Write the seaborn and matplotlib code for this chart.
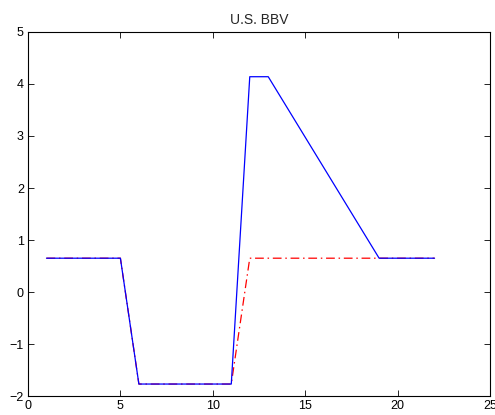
import matplotlib
matplotlib.use("Agg")
import matplotlib.pyplot as plt
import seaborn as sns
import pandas as pd

blue_x = [1, 2, 3, 4, 5, 6, 7, 8, 9, 10, 11, 12, 13, 19, 20, 21, 22]
blue_y = [0.65, 0.65, 0.65, 0.65, 0.65, -1.77, -1.77, -1.77, -1.77, -1.77, -1.77,
          4.14, 4.14, 0.65, 0.65, 0.65, 0.65]
red_x = [1, 2, 3, 4, 5, 6, 7, 8, 9, 10, 11, 12, 13, 14, 15, 16, 17, 18, 19, 20, 21, 22]
red_y = [0.65, 0.65, 0.65, 0.65, 0.65, -1.77, -1.77, -1.77, -1.77, -1.77, -1.77,
         0.65, 0.65, 0.65, 0.65, 0.65, 0.65, 0.65, 0.65, 0.65, 0.65, 0.65]
title = "U.S. BBV"
x_ticks = [0, 5, 10, 15, 20, 25]
y_ticks = [-2, -1, 0, 1, 2, 3, 4, 5]

sns.set_style("ticks")
plt.rcParams['font.family'] = ['Liberation Sans', 'DejaVu Sans']
plt.rcParams['axes.unicode_minus'] = True

fig = plt.figure(figsize=(4.95, 4.15), dpi=100)
ax = fig.add_axes([28/495, 19/415, 462/495, 364/415])

red_df = pd.DataFrame({"x": red_x, "y": red_y})
blue_df = pd.DataFrame({"x": blue_x, "y": blue_y})
sns.lineplot(data=red_df, x="x", y="y", ax=ax, color="#ff0000", linewidth=0.9,
             sort=False, estimator=None)
ax.lines[-1].set_dashes([7, 3, 1.2, 3])
sns.lineplot(data=blue_df, x="x", y="y", ax=ax, color="#0000ff", linewidth=0.9,
             sort=False, estimator=None)

ax.set_xlim(0, 25)
ax.set_ylim(-2, 5)
ax.set_xticks(x_ticks)
ax.set_yticks(y_ticks)
ax.set_xlabel("")
ax.set_ylabel("")
ax.set_title(title, fontsize=10, pad=6)
ax.tick_params(direction="in", length=4, width=0.6, labelsize=9, top=True, right=True,
               pad=3, colors="black")
for s in ax.spines.values():
    s.set_visible(True)
    s.set_linewidth(0.8)
    s.set_color("black")

fig.savefig("out.png", dpi=100)
